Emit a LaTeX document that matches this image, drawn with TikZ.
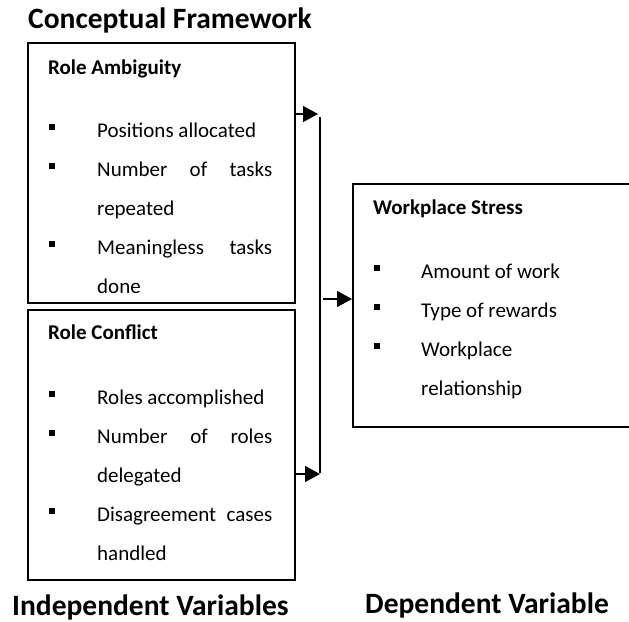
\documentclass[tikz,border=0pt]{standalone}
\usepackage{fontspec}
\setmainfont{Carlito}
\usetikzlibrary{arrows.meta,positioning}

\begin{document}
\begin{tikzpicture}[x=1pt,y=-1pt]
% ---------------------------------------------------------
% Dimensions (page units, y grows downwards)
% ---------------------------------------------------------
\def\PageW{629}
\def\PageH{621}
\def\LeftX{27}        % left edge of the two input boxes
\def\BoxW{267}        % width of the input boxes
\def\BulletX{52}      % bullet column, input boxes
\def\TextX{97}        % text column, input boxes
\def\TextW{175}       % justified line width
\def\Pitch{39}        % line spacing
\def\BusX{320}        % vertical collector line

% ---------------------------------------------------------
% Styles
% ---------------------------------------------------------
\tikzset{
  frame box/.style={draw=black, line width=1.5pt, inner sep=0pt, anchor=north west},
  head text/.style={font=\bfseries\fontsize{21}{21}\selectfont, anchor=base west, inner sep=0pt},
  item text/.style={font=\fontsize{21}{21}\selectfont, anchor=base west, inner sep=0pt},
  big label/.style={font=\bfseries\fontsize{29.5}{29.5}\selectfont, anchor=base west, inner sep=0pt},
  bullet mark/.style={fill=black, minimum size=5.5pt, inner sep=0pt},
  link/.style={line width=1.5pt, -{Triangle[length=15pt,width=16pt]}},
  bus line/.style={line width=1.5pt}
}
\newcommand{\JustLine}[1]{\makebox[\TextW pt][s]{#1}}

\useasboundingbox (0,0) rectangle (\PageW,\PageH);
\clip (0,0) rectangle (\PageW,\PageH);

% =========================================================
% 1) TITLE AND FOOT LABELS
% =========================================================
\node[big label] (title) at (28,28) {Conceptual Framework};
\node[big label] (indep) at (12,615) {Independent Variables};
\node[big label] (dep)   at (365,613) {Dependent Variable};

% =========================================================
% 2) BOXES
% =========================================================
\node[frame box, minimum width=\BoxW pt, minimum height=260pt] (ambig) at (\LeftX,42) {};
\node[frame box, minimum width=\BoxW pt, minimum height=270pt] (conflict) at (\LeftX,309) {};
% right box runs off the page edge
\node[frame box, minimum width=300pt, minimum height=243pt] (stress) at (352,183) {};

% =========================================================
% 3) ROLE AMBIGUITY
% =========================================================
\node[head text] (ambigHead) at (48,74) {Role Ambiguity};
\foreach \row/\y in {1/137,2/176,3/254} {
  \node[bullet mark] (ambigB\row) at (\BulletX,\y-10) {};
}
\node[item text] (ambigA) at (\TextX,137) {Positions allocated};
\node[item text] (ambigB) at (\TextX,{137+\Pitch}) {\JustLine{Number of tasks}};
\node[item text] (ambigC) at (\TextX,{137+2*\Pitch}) {repeated};
\node[item text] (ambigD) at (\TextX,{137+3*\Pitch}) {\JustLine{Meaningless tasks}};
\node[item text] (ambigE) at (\TextX,{137+4*\Pitch}) {done};

% =========================================================
% 4) ROLE CONFLICT
% =========================================================
\node[head text] (conflictHead) at (48,339) {Role Conflict};
\foreach \row/\y in {1/404,2/443,3/521} {
  \node[bullet mark] (conflictB\row) at (\BulletX,\y-10) {};
}
\node[item text] (conflictA) at (\TextX,404) {Roles accomplished};
\node[item text] (conflictB) at (\TextX,{404+\Pitch}) {\JustLine{Number of roles}};
\node[item text] (conflictC) at (\TextX,{404+2*\Pitch}) {delegated};
\node[item text] (conflictD) at (\TextX,{404+3*\Pitch}) {\JustLine{Disagreement cases}};
\node[item text] (conflictE) at (\TextX,{404+4*\Pitch}) {handled};

% =========================================================
% 5) WORKPLACE STRESS
% =========================================================
\node[head text] (stressHead) at (373,214) {Workplace Stress};
\foreach \row/\y in {1/278,2/317,3/356} {
  \node[bullet mark] (stressB\row) at (377,\y-10) {};
}
\node[item text] (stressA) at (421,278) {Amount of work};
\node[item text] (stressB) at (421,{278+\Pitch}) {Type of rewards};
\node[item text] (stressC) at (421,{278+2*\Pitch}) {Workplace};
\node[item text] (stressD) at (421,{278+3*\Pitch}) {relationship};

% =========================================================
% 6) CONNECTORS
% =========================================================
\coordinate (busTop) at (\BusX,114);
\coordinate (busBot) at (\BusX,474);
\coordinate (busMid) at (\BusX+3,299);

\draw[bus line] ([yshift=-3pt]busTop) -- ([yshift=1pt]busBot);
\draw[link] (ambig.east |- busTop) -- ([xshift=-2pt]busTop);
\draw[link] (conflict.east |- busBot) -- (busBot);
\draw[link] (busMid) -- (stress.west |- busMid);

\end{tikzpicture}
\end{document}
